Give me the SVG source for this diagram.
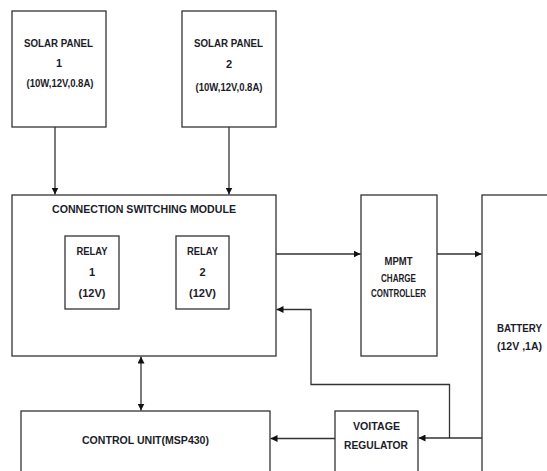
<svg xmlns="http://www.w3.org/2000/svg" width="547" height="471" viewBox="0 0 547 471">
<style>
.box{fill:#fff;stroke:#333;stroke-width:1.3}
.ln{fill:none;stroke:#333;stroke-width:1.3}
text{font-family:"Liberation Sans",Arial,sans-serif;font-weight:bold;fill:#1c1c2a;text-anchor:middle;font-size:11px}
.s{font-size:10px}
</style>
<defs>
<marker id="ah" viewBox="0 0 10 10" refX="10" refY="5" markerWidth="7" markerHeight="7" markerUnits="userSpaceOnUse" orient="auto-start-reverse">
<path d="M0,0 L10,5 L0,10 z" fill="#111"/>
</marker>
</defs>
<rect width="547" height="471" fill="#fff"/>
<g id="solar1">
<rect class="box" x="12" y="11" width="94" height="116"/>
<text x="58.5" y="47" textLength="69" lengthAdjust="spacingAndGlyphs">SOLAR PANEL</text>
<text x="59" y="67">1</text>
<text x="60" y="87" textLength="67" lengthAdjust="spacingAndGlyphs">(10W,12V,0.8A)</text>
</g>
<g id="solar2">
<rect class="box" x="182" y="11" width="94" height="116"/>
<text x="228.5" y="47" textLength="69" lengthAdjust="spacingAndGlyphs">SOLAR PANEL</text>
<text x="229" y="68">2</text>
<text x="229" y="91" textLength="67" lengthAdjust="spacingAndGlyphs">(10W,12V,0.8A)</text>
</g>
<g id="switching">
<rect class="box" x="12" y="195" width="264" height="161"/>
<text x="144" y="213" textLength="184" lengthAdjust="spacingAndGlyphs">CONNECTION SWITCHING MODULE</text>
</g>
<g id="relay1">
<rect class="box" x="65" y="236" width="54" height="73"/>
<text x="92" y="254.5" textLength="31" lengthAdjust="spacingAndGlyphs">RELAY</text>
<text x="92" y="276">1</text>
<text x="92" y="296.5" textLength="27" lengthAdjust="spacingAndGlyphs">(12V)</text>
</g>
<g id="relay2">
<rect class="box" x="176" y="236" width="53" height="73"/>
<text x="202.5" y="254.5" textLength="31" lengthAdjust="spacingAndGlyphs">RELAY</text>
<text x="202.5" y="276">2</text>
<text x="202.5" y="296.5" textLength="27" lengthAdjust="spacingAndGlyphs">(12V)</text>
</g>
<g id="mppt">
<rect class="box" x="361" y="195" width="76" height="161"/>
<text class="s" x="398.5" y="264.5" textLength="28" lengthAdjust="spacingAndGlyphs">MPMT</text>
<text class="s" x="398.5" y="281.5" textLength="35" lengthAdjust="spacingAndGlyphs">CHARGE</text>
<text class="s" x="398.5" y="297" textLength="55" lengthAdjust="spacingAndGlyphs">CONTROLLER</text>
</g>
<g id="battery">
<rect class="box" x="482" y="195" width="80" height="290"/>
<text x="519.5" y="332" textLength="45" lengthAdjust="spacingAndGlyphs">BATTERY</text>
<text x="519.5" y="350" textLength="45" lengthAdjust="spacingAndGlyphs">(12V ,1A)</text>
</g>
<g id="control">
<rect class="box" x="21" y="411" width="249" height="80"/>
<text x="145.5" y="443.5" textLength="127" lengthAdjust="spacingAndGlyphs">CONTROL UNIT(MSP430)</text>
</g>
<g id="regulator">
<rect class="box" x="335" y="411" width="83" height="80"/>
<text x="376.5" y="429.5" textLength="47" lengthAdjust="spacingAndGlyphs">VOITAGE</text>
<text x="376" y="449" textLength="64" lengthAdjust="spacingAndGlyphs">REGULATOR</text>
</g>
<g id="connectors">
<line class="ln" x1="55" y1="127" x2="55" y2="194.5" marker-end="url(#ah)"/>
<line class="ln" x1="229" y1="127" x2="229" y2="194.5" marker-end="url(#ah)"/>
<line class="ln" x1="276" y1="254" x2="360.5" y2="254" marker-end="url(#ah)"/>
<line class="ln" x1="437" y1="254" x2="481.5" y2="254" marker-end="url(#ah)"/>
<polyline class="ln" points="449.5,438 449.5,384.5 311,384.5 311,309.5 276.5,309.5" marker-end="url(#ah)"/>
<line class="ln" x1="482" y1="438" x2="418.5" y2="438" marker-end="url(#ah)"/>
<line class="ln" x1="335" y1="438.5" x2="270.5" y2="438.5" marker-end="url(#ah)"/>
<line class="ln" x1="141" y1="356.5" x2="141" y2="410.5" marker-start="url(#ah)" marker-end="url(#ah)"/>
</g>
</svg>
